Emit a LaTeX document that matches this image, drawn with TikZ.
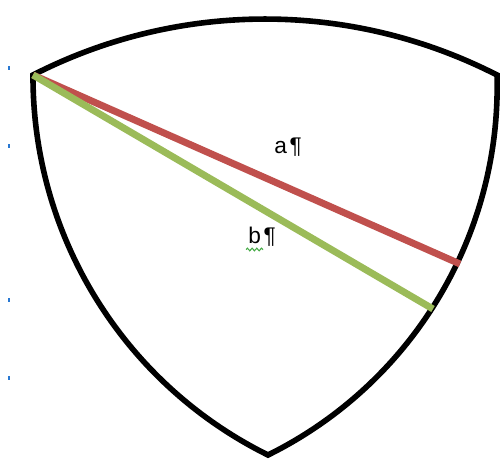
\documentclass[tikz,border=0pt]{standalone}
\usepackage{fontspec}
\setmainfont{Liberation Sans}
\usetikzlibrary{decorations.pathmorphing}
\definecolor{redline}{RGB}{192,80,77}
\definecolor{greenline}{RGB}{155,187,89}
\definecolor{dotblue}{RGB}{40,120,210}
\definecolor{squigglegreen}{RGB}{70,170,70}
\begin{document}
\begin{tikzpicture}[x=0.75pt,y=-0.75pt,
  outline/.style={line width=4.2pt, line join=miter, draw=black},
  chord/.style={line width=5.2pt},
  lbl/.style={font=\fontsize{17}{20}\selectfont, inner sep=0pt, anchor=base},
  tickdot/.style={fill=dotblue, inner sep=0pt, minimum width=1.5pt, minimum height=3pt},
  squiggle/.style={draw=squigglegreen, line width=0.8pt, decorate,
     decoration={snake, segment length=3.5pt, amplitude=1pt}}]
\useasboundingbox (0,0) rectangle (500,459);
% vertices and chord ends
\coordinate (A) at (33,75);
\coordinate (B) at (497,75);
\coordinate (C) at (268,455);
\coordinate (R) at (460,264);
\coordinate (G) at (433,309);
% Reuleaux-like outline
\draw[outline] (A) .. controls (178.7,0.4) and (351.3,0.4) .. (B)
  .. controls (501.5,235.5) and (411.9,383.9) .. (C)
  .. controls (123.6,383.6) and (32.4,236.2) .. cycle;
% chords
\draw[chord, redline] (A) -- (R);
\draw[chord, greenline] (A) -- (G);
% labels
\node[lbl] (la) at (288,154) {a\kern2pt¶};
\node[lbl] (lb) at (262,244) {b\kern2pt¶};
\coordinate (s1) at (246,249.5);
\coordinate (s2) at (263,249.5);
\draw[squiggle] (s1) -- (s2);
% margin marks
\node[tickdot] (d1) at (9,68) {};
\node[tickdot] (d2) at (9,146) {};
\node[tickdot] (d3) at (9,300) {};
\node[tickdot] (d4) at (9,378) {};
\end{tikzpicture}
\end{document}
